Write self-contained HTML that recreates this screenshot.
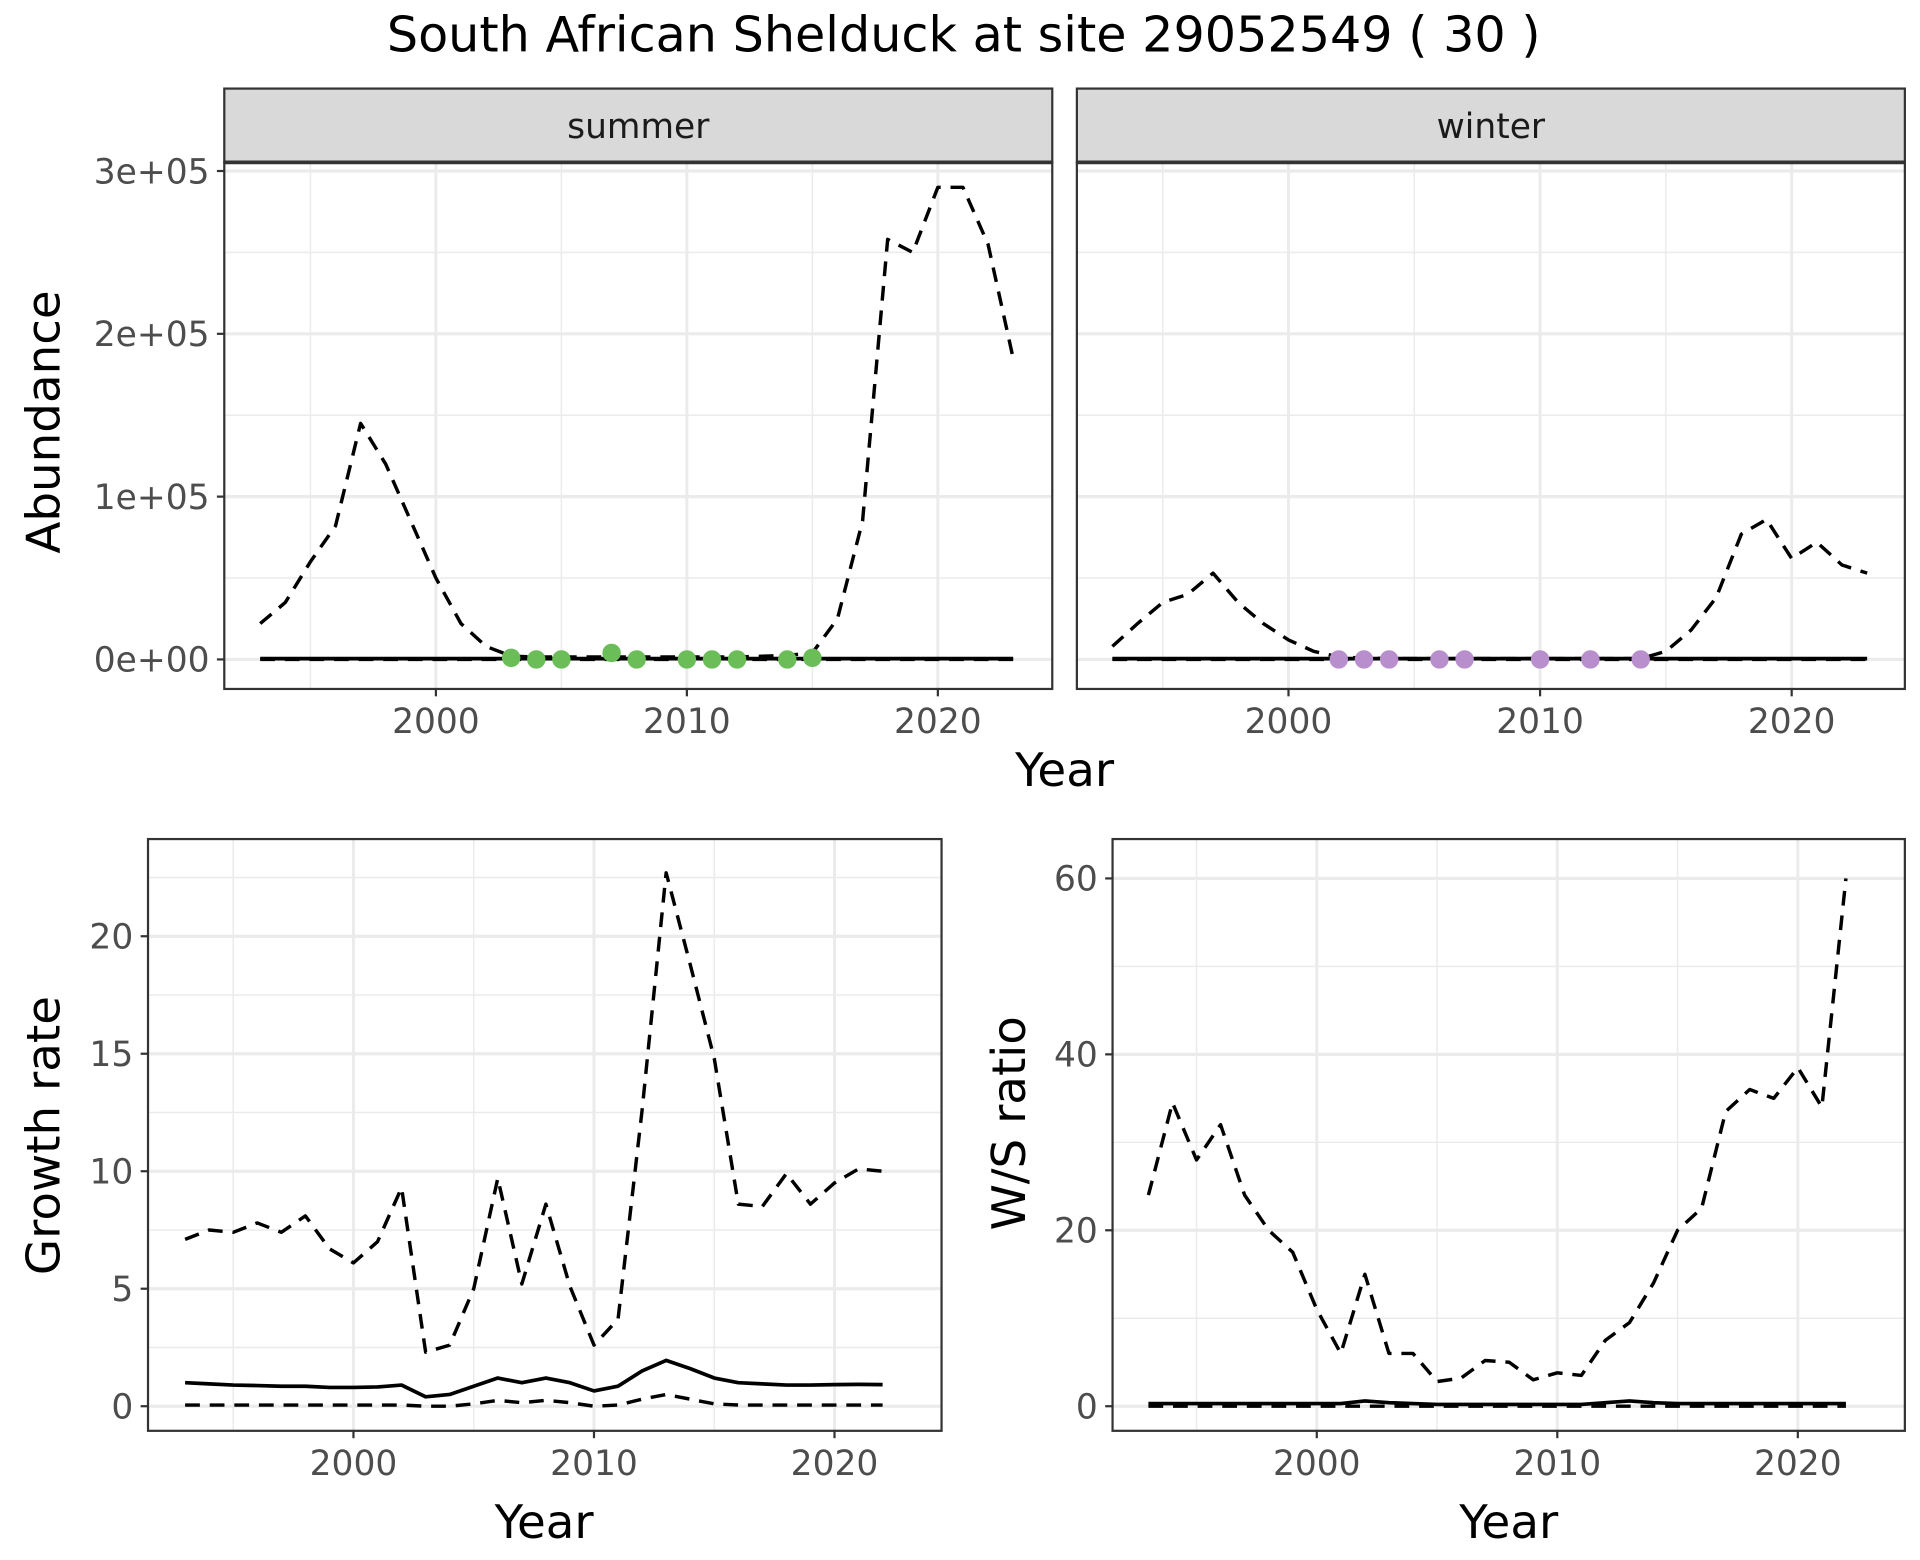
<!DOCTYPE html>
<html><head><meta charset="utf-8"><style>
html,body{margin:0;padding:0;background:#fff;}
svg{display:block;font-family:"DejaVu Sans","Liberation Sans",sans-serif;}
</style></head><body>
<svg id="c" width="1920" height="1560" viewBox="0 0 1560 1268" xmlns="http://www.w3.org/2000/svg">
<text x="783" y="42" font-size="40" text-anchor="middle" fill="#000">South African Shelduck at site 29052549 ( 30 )</text>
<g id="g"></g>
</svg>
<script>
// ---- data ----
const absYears = [1993,1994,1995,1996,1997,1998,1999,2000,2001,2002,2003,2004,2005,2006,2007,2008,2009,2010,2011,2012,2013,2014,2015,2016,2017,2018,2019,2020,2021,2022,2023];
const summerUpper = [22000,35000,60000,82000,145000,120000,85000,50000,22000,8000,2000,1500,1500,1500,1500,1500,1500,1500,1500,1500,2000,2500,4000,25000,85000,258000,250000,290000,290000,255000,185000];
const summerMean = [500,500,500,500,500,500,500,500,500,500,500,500,500,500,500,500,500,500,500,500,500,500,500,500,500,500,500,500,500,500,500];
const summerLower = [0,0,0,0,0,0,0,0,0,0,0,0,0,0,0,0,0,0,0,0,0,0,0,0,0,0,0,0,0,0,0];
const summerObsYears = [2003,2004,2005,2007,2008,2010,2011,2012,2014,2015];
const summerObs = [1000,0,0,4000,0,0,0,0,0,1000];
const winterUpper = [8000,22000,35000,40000,53000,35000,22000,12000,5000,1500,800,600,500,500,500,500,500,500,500,500,500,500,5000,18000,38000,77000,86000,62000,72000,58000,53000];
const winterMean = summerMean;
const winterLower = summerLower;
const winterObsYears = [2002,2003,2004,2006,2007,2010,2012,2014];
const winterObs = [0,0,0,0,0,0,0,0];
const absTicks = [0,100000,200000,300000];
const absTickLabels = ["0e+00","1e+05","2e+05","3e+05"];

const grYears = [1993,1994,1995,1996,1997,1998,1999,2000,2001,2002,2003,2004,2005,2006,2007,2008,2009,2010,2011,2012,2013,2014,2015,2016,2017,2018,2019,2020,2021,2022];
const grUpper = [7.1,7.5,7.4,7.8,7.4,8.1,6.7,6.1,7.0,9.3,2.3,2.6,5.0,9.7,5.2,8.6,5.1,2.6,3.7,12.6,22.7,18.8,14.8,8.6,8.5,9.9,8.6,9.5,10.1,10.0];
const grMean = [1.0,0.95,0.9,0.88,0.85,0.85,0.8,0.8,0.82,0.9,0.4,0.5,0.85,1.2,1.0,1.2,1.0,0.65,0.85,1.5,1.95,1.6,1.2,1.0,0.95,0.9,0.9,0.92,0.93,0.92];
const grLower = [0.05,0.05,0.05,0.05,0.05,0.05,0.05,0.05,0.05,0.05,0.0,0.0,0.1,0.25,0.15,0.25,0.15,0.0,0.05,0.3,0.5,0.3,0.1,0.05,0.05,0.05,0.05,0.05,0.05,0.05];
const grTicks = [0,5,10,15,20];

const wsUpper = [24,34.5,28,32,24,20,17.5,11,6,15,6,6,2.8,3.2,5.2,5,3,3.8,3.5,7.5,9.5,14,20,22.5,33.5,36,35,38.5,34,60];
const wsMean = [0.3,0.3,0.3,0.3,0.3,0.3,0.3,0.3,0.3,0.6,0.4,0.3,0.2,0.2,0.2,0.2,0.2,0.2,0.2,0.4,0.6,0.4,0.3,0.3,0.3,0.3,0.3,0.3,0.3,0.3];
const wsLower = [0,0,0,0,0,0,0,0,0,0,0,0,0,0,0,0,0,0,0,0,0,0,0,0,0,0,0,0,0,0];
const wsTicks = [0,20,40,60];
const xTicks = [2000,2010,2020];

const NS="http://www.w3.org/2000/svg";
const G=document.getElementById('g');
function mk(tag,attrs,parent){const e=document.createElementNS(NS,tag);for(const k in attrs)e.setAttribute(k,attrs[k]);(parent||G).appendChild(e);return e;}

function panel(o){
  const {x0,x1,y0,y1,xs,ys,name}=o;
  const g=mk('g',{});
  
  
  o.xminor.forEach(v=>mk('line',{x1:xs(v),x2:xs(v),y1:y0,y2:y1,stroke:'#ebebeb','stroke-width':1.2},g));
  o.yminor.forEach(v=>mk('line',{x1:x0,x2:x1,y1:ys(v),y2:ys(v),stroke:'#ebebeb','stroke-width':1.2},g));
  xTicks.forEach(v=>mk('line',{x1:xs(v),x2:xs(v),y1:y0,y2:y1,stroke:'#ebebeb','stroke-width':2.4},g));
  o.yticks.forEach(v=>mk('line',{x1:x0,x2:x1,y1:ys(v),y2:ys(v),stroke:'#ebebeb','stroke-width':2.6},g));
  o.series.forEach(s=>{
    const p=mk('polyline',{points:s.xs.map((yr,i)=>xs(yr)+','+ys(s.v[i])).join(' '),fill:'none',stroke:'#000','stroke-width':s.w||2,'stroke-dasharray':s.dash||'none','stroke-linejoin':'round'},g);
    
    
  });
  if(o.pts){o.pts.years.forEach((yr,i)=>{
    const c=mk('circle',{cx:xs(yr),cy:ys(o.pts.v[i]),r:7.5,fill:o.pts.color},g);
    
    
  });}
  mk('rect',{x:x0,y:y0,width:x1-x0,height:y1-y0,fill:'none',stroke:'#333','stroke-width':1.8},g);
  xTicks.forEach(v=>{
    mk('line',{x1:xs(v),x2:xs(v),y1:y1,y2:y1+6,stroke:'#333','stroke-width':1.8},g);
    const t=mk('text',{x:xs(v),y:y1+36,'font-size':28,'text-anchor':'middle',fill:'#4d4d4d'},g);t.textContent=v;
    
    
  });
  if(o.showY){o.yticks.forEach((v,i)=>{
    mk('line',{x1:x0-6,x2:x0,y1:ys(v),y2:ys(v),stroke:'#333','stroke-width':1.8},g);
    const t=mk('text',{x:x0-12,y:ys(v)+10,'font-size':28,'text-anchor':'end',fill:'#4d4d4d'},g);t.textContent=o.ylabels?o.ylabels[i]:v;
    
    
  });}
  if(o.strip){
    const r=mk('rect',{x:x0,y:o.strip[0],width:x1-x0,height:o.strip[1]-o.strip[0],fill:'#d9d9d9',stroke:'#333','stroke-width':1.8},g);
    
    
    mk('line',{x1:x0,x2:x1,y1:y0,y2:y0,stroke:'#333','stroke-width':3},g);
    const t=mk('text',{x:(x0+x1)/2,y:(o.strip[0]+o.strip[1])/2+10,'font-size':28,'text-anchor':'middle',fill:'#1a1a1a'},g);t.textContent=o.stripText;
    
    
  }
}
function lin(d0,d1,r0,r1){return v=>r0+(v-d0)*(r1-r0)/(d1-d0);}
function sset(yrs,u,m,l){return [{xs:yrs,v:u,dash:'12,8',w:2.8,name:'upper-ci-line'},{xs:yrs,v:l,dash:'12,8',w:2.8,name:'lower-ci-line'},{xs:yrs,v:m,w:3,name:'mean-line'}];}

const ysA=lin(0,300000,536,139);
panel({name:'summer-panel',x0:182,x1:855,y0:132,y1:560,xs:lin(2000,2020,354,762),ys:ysA,yticks:absTicks,ylabels:absTickLabels,yminor:[50000,150000,250000],xminor:[1995,2005,2015],showY:true,strip:[72,132],stripText:'summer',series:sset(absYears,summerUpper,summerMean,summerLower),pts:{years:summerObsYears,v:summerObs,color:'#6abd57'}});
panel({name:'winter-panel',x0:875,x1:1548,y0:132,y1:560,xs:lin(2000,2020,1047,1456),ys:ysA,yticks:absTicks,yminor:[50000,150000,250000],xminor:[1995,2005,2015],showY:false,strip:[72,132],stripText:'winter',series:sset(absYears,winterUpper,winterMean,winterLower),pts:{years:winterObsYears,v:winterObs,color:'#b88fcc'}});
panel({name:'growth-rate-panel',x0:120,x1:765,y0:682,y1:1163,xs:lin(2000,2020,287,678),ys:lin(0,20,1143,761),yticks:grTicks,yminor:[2.5,7.5,12.5,17.5,22.5],xminor:[1995,2005,2015],showY:true,series:sset(grYears,grUpper,grMean,grLower)});
panel({name:'ws-ratio-panel',x0:904,x1:1548,y0:682,y1:1163,xs:lin(2000,2020,1070,1461),ys:lin(0,60,1143,714),yticks:wsTicks,yminor:[10,30,50],xminor:[1995,2005,2015],showY:true,series:sset(grYears,wsUpper,wsMean,wsLower)});

function label(txt,x,y,rot,name){const t=mk('text',{x:x,y:y,'font-size':38,'text-anchor':'middle',fill:'#000',transform:rot?`rotate(-90 ${x} ${y})`:''});t.textContent=txt;

}
label('Year',865,639,false,'x-axis-title-top');
label('Abundance',48,343,true,'y-axis-title-abundance');
label('Year',442,1250,false,'x-axis-title-growth');
label('Growth rate',48,923,true,'y-axis-title-growth');
label('Year',1226,1250,false,'x-axis-title-ws');
label('W/S ratio',833,913,true,'y-axis-title-ws');
</script>
</body></html>
